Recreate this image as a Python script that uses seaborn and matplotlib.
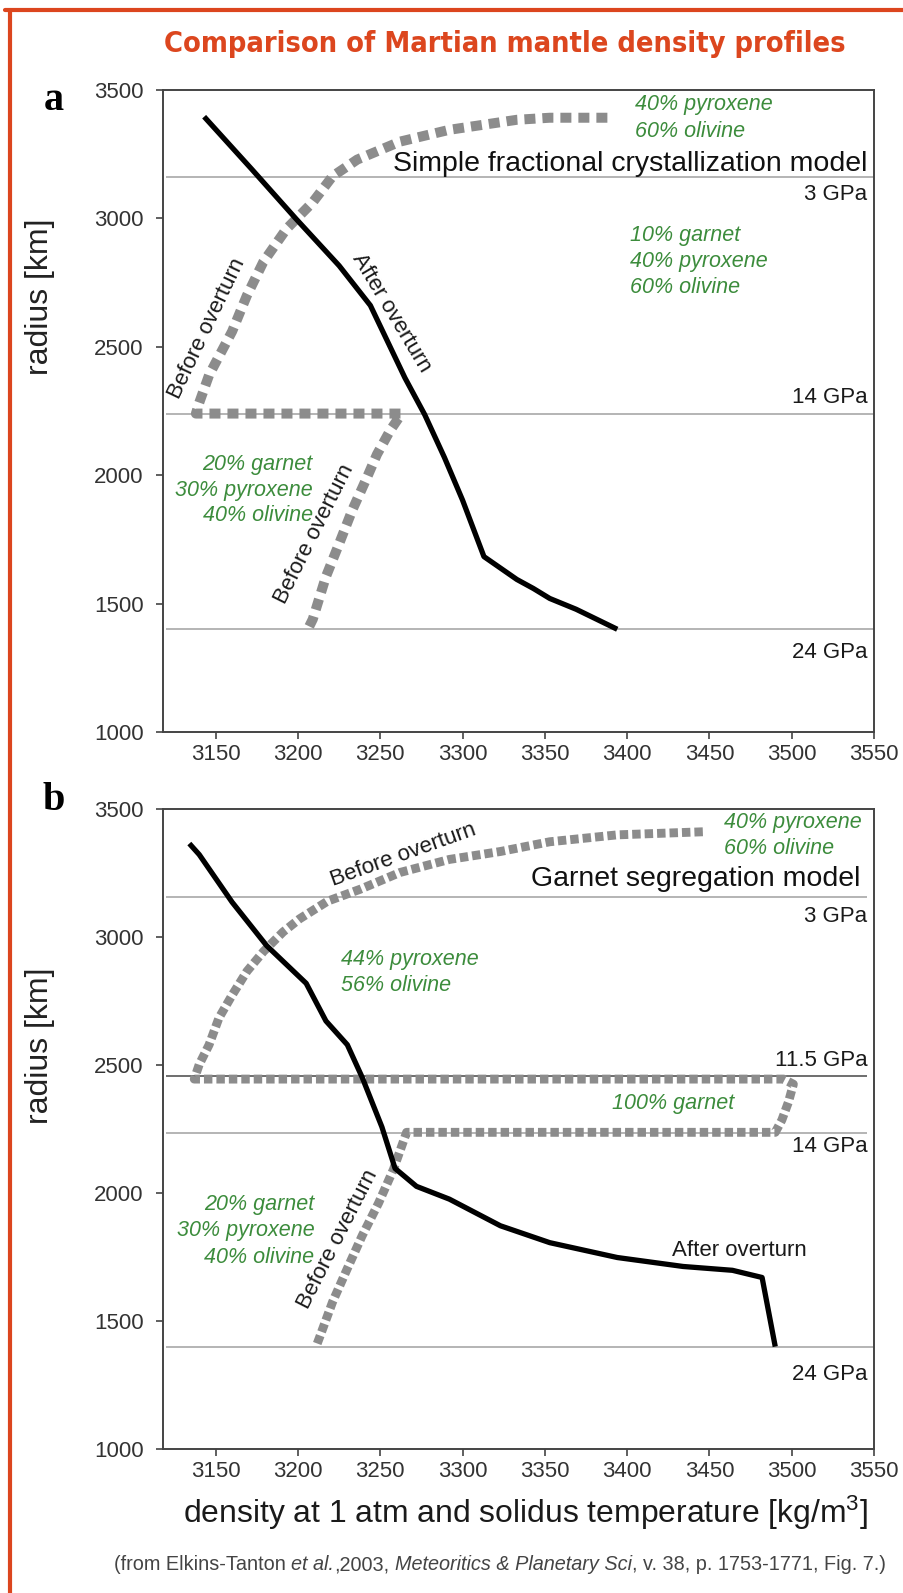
import matplotlib
matplotlib.use("Agg")
import matplotlib.pyplot as plt
import seaborn as sns
import pandas as pd
from matplotlib import font_manager as fm
from matplotlib.lines import Line2D

# ------------------------------------------------------------------ data
X_TICKS = [3150, 3200, 3250, 3300, 3350, 3400, 3450, 3500, 3550]
Y_TICKS = [1000, 1500, 2000, 2500, 3000, 3500]

# panel a : simple fractional crystallization model
A_AFTER_DENSITY = [3143, 3172, 3199, 3225, 3244, 3265, 3277, 3289, 3300, 3313, 3333, 3343, 3353, 3369, 3394]
A_AFTER_RADIUS = [3396, 3191, 2997, 2816, 2661, 2379, 2236, 2069, 1903, 1683, 1594, 1559, 1520, 1478, 1400]
A_BEFORE_DENSITY = [3388, 3353, 3333, 3292, 3262, 3236, 3221, 3209, 3193, 3179, 3169, 3160, 3146, 3140,
                    3138, 3263, 3256, 3248, 3242, 3233, 3225, 3217, 3209, 3206]
A_BEFORE_RADIUS = [3392, 3392, 3384, 3345, 3299, 3229, 3164, 3063, 2959, 2831, 2700, 2560, 2390, 2282,
                   2240, 2240, 2174, 2081, 1992, 1864, 1733, 1605, 1439, 1400]
A_LEVELS = [3160, 2240, 1400]
A_LEVEL_LABELS = ["3 GPa", "14 GPa", "24 GPa"]

# panel b : garnet segregation model
B_AFTER_DENSITY = [3134, 3140, 3160, 3181, 3205, 3217, 3230, 3239, 3251, 3259, 3272, 3292, 3323, 3353,
                   3394, 3434, 3464, 3482, 3490]
B_AFTER_RADIUS = [3365, 3322, 3136, 2966, 2819, 2672, 2579, 2452, 2258, 2096, 2026, 1976, 1872, 1806,
                  1748, 1713, 1698, 1670, 1400]
B_BEFORE_DENSITY = [3446, 3394, 3353, 3323, 3292, 3262, 3238, 3218, 3201, 3191, 3179, 3169, 3160, 3152,
                    3146, 3140, 3137, 3495, 3501, 3498, 3494, 3490, 3266, 3258, 3249, 3239, 3230, 3221,
                    3213, 3211]
B_BEFORE_RADIUS = [3411, 3399, 3372, 3334, 3303, 3252, 3187, 3140, 3071, 3020, 2943, 2866, 2773, 2684,
                   2579, 2502, 2445, 2445, 2425, 2355, 2285, 2237, 2237, 2092, 1961, 1833, 1705, 1574,
                   1434, 1400]
B_LEVELS = [3157, 2457, 2236, 1400]
B_LEVEL_LABELS = ["3 GPa", "11.5 GPa", "14 GPa", "24 GPa"]

TITLE = "Comparison of Martian mantle density profiles"
CITATION = [("(from Elkins-Tanton", "normal"), (" ", "space"), ("et al.", "italic"),
            (",2003,", "normal"), (" ", "space"), ("Meteoritics & Planetary Sci", "italic"),
            (", v. 38, p. 1753-1771, Fig. 7.)", "normal")]

# ------------------------------------------------------------------ style
sns.set_theme(style="white")
plt.rcParams["font.family"] = ["Liberation Sans", "DejaVu Sans"]
plt.rcParams["mathtext.fontset"] = "custom"
plt.rcParams["mathtext.rm"] = "Liberation Sans"

W, H = 904, 1593
fig = plt.figure(figsize=(W / 100, H / 100), dpi=100)
fig.patch.set_facecolor("white")


def fx(px):
    return px / W


def fy(py):
    return 1 - py / H


GREY = "#8c8c8c"
GREEN = "#3c8c3c"
RED = "#dc461e"
TXT = "#1a1a1a"

# red frame (top and left)
fig.add_artist(Line2D([fx(5), fx(904)], [fy(10), fy(10)], color=RED, lw=3, transform=fig.transFigure))
fig.add_artist(Line2D([fx(10), fx(10)], [fy(10), fy(1593)], color=RED, lw=3, transform=fig.transFigure))

ax_a = fig.add_axes([fx(163), fy(732), (874 - 163) / W, (732 - 90) / H])
ax_b = fig.add_axes([fx(163), fy(1449), (874 - 163) / W, (1449 - 809) / H])


def style_axes(ax):
    ax.set_xlim(3118, 3550)
    ax.set_ylim(1000, 3500)
    ax.set_xticks(X_TICKS)
    ax.set_yticks(Y_TICKS)
    ax.set_xlabel("")
    ax.set_ylabel("")
    for s in ax.spines.values():
        s.set_visible(True)
        s.set_color("#444444")
        s.set_linewidth(1.4)
    ax.tick_params(axis="both", which="both", direction="out", length=5, width=1.2,
                   color="#444444", labelcolor="#333333", labelsize=16,
                   bottom=True, left=True, top=False, right=False)
    ax.tick_params(axis="x", pad=3.5)
    ax.tick_params(axis="y", pad=9)
    ax.set_facecolor("white")
    ax.grid(False)


def draw_panel(ax, after_x, after_y, before_x, before_y, levels, xmax_list, lw_dot, dash, dark_idx=None):
    ax.hlines(levels, 3120, xmax_list,
              colors=["#555555" if i == dark_idx else "#a8a8a8" for i in range(len(levels))],
              linewidth=1.2, zorder=1)
    before = pd.DataFrame({"density": before_x, "radius": before_y})
    sns.lineplot(data=before, x="density", y="radius", sort=False, estimator=None,
                 color=GREY, linewidth=lw_dot, ax=ax, zorder=2)
    ln = ax.lines[-1]
    ln.set_linestyle((0, dash))
    ln.set_dash_capstyle("butt")
    after = pd.DataFrame({"density": after_x, "radius": after_y})
    sns.lineplot(data=after, x="density", y="radius", sort=False, estimator=None,
                 color="black", linewidth=3.8, ax=ax, zorder=3)
    ax.lines[-1].set_solid_capstyle("butt")
    style_axes(ax)


draw_panel(ax_a, A_AFTER_DENSITY, A_AFTER_RADIUS, A_BEFORE_DENSITY, A_BEFORE_RADIUS,
           A_LEVELS, [3550, 3550, 3550], 7.2, (1.1, 0.7))
draw_panel(ax_b, B_AFTER_DENSITY, B_AFTER_RADIUS, B_BEFORE_DENSITY, B_BEFORE_RADIUS,
           B_LEVELS, [3546, 3546, 3546, 3550], 6.4, (0.95, 0.45), dark_idx=1)

# ------------------------------------------------------------------ annotations
gk = dict(color=GREEN, fontsize=15.5, style="italic", va="center")
bk = dict(color=TXT, fontsize=16, va="center")
ov = dict(rotation_mode="anchor", ha="center", va="center", fontsize=16, color=TXT)

# panel a
ax_a.text(3546, 3210, "Simple fractional crystallization model", ha="right", va="center",
          fontsize=20.5, color="#111111")
for lab, yv in zip(A_LEVEL_LABELS, [3094, 2301, 1308]):
    ax_a.text(3546, yv, lab, ha="right", **bk)
for lab, yv in zip(["40% pyroxene", "60% olivine"], [3442, 3338]):
    ax_a.text(3405, yv, lab, ha="left", **gk)
for lab, yv in zip(["10% garnet", "40% pyroxene", "60% olivine"], [2932, 2831, 2730]):
    ax_a.text(3402, yv, lab, ha="left", **gk)
for lab, yv in zip(["20% garnet", "30% pyroxene", "40% olivine"], [2042, 1942, 1845]):
    ax_a.text(3209, yv, lab, ha="right", **gk)
ax_a.text(3257, 2630, "After overturn", rotation=-59, **ov)
ax_a.text(3145, 2572, "Before overturn", rotation=64.5, **ov)
ax_a.text(3210, 1771, "Before overturn", rotation=63.4, **ov)

# panel b
ax_b.text(3542, 3225, "Garnet segregation model", ha="right", va="center", fontsize=20.5,
          color="#111111")
for lab, yv in zip(B_LEVEL_LABELS, [3082, 2517, 2181, 1292]):
    ax_b.text(3546, yv, lab, ha="right", **bk)
for lab, yv in zip(["40% pyroxene", "60% olivine"], [3446, 3345]):
    ax_b.text(3459, yv, lab, ha="left", **gk)
for lab, yv in zip(["44% pyroxene", "56% olivine"], [2912, 2811]):
    ax_b.text(3226, yv, lab, ha="left", **gk)
ax_b.text(3428, 2351, "100% garnet", ha="center", **gk)
for lab, yv in zip(["20% garnet", "30% pyroxene", "40% olivine"], [1957, 1852, 1748]):
    ax_b.text(3210, yv, lab, ha="right", **gk)
ax_b.text(3264, 3320, "Before overturn", rotation=19.7, **ov)
ax_b.text(3224, 1821, "Before overturn", rotation=63, **ov)
ax_b.text(3468, 1775, "After overturn", ha="center", va="center", fontsize=16, color=TXT)

# axis labels
for ycen in (297, 1046):
    fig.text(fx(40), fy(ycen), "radius [km]", rotation=90, ha="center", va="center",
             fontsize=23, color="#222222")
for lab, (px, py) in zip(["a", "b"], [(54, 101), (54, 800)]):
    fig.text(fx(px), fy(py), lab, ha="center", va="center", fontsize=29, fontweight="bold",
             family=["Liberation Serif", "DejaVu Serif"], color="black")

renderer = fig.canvas.get_renderer()

# x label, fitted to the reference width
xl = fig.text(fx(525), fy(1513), r"density at 1 atm and solidus temperature [kg/m$\mathregular{^3}$]",
              ha="center", va="center", fontsize=20, color=TXT)
w = xl.get_window_extent(renderer).width
xl.set_fontsize(20 * 685 / w)

# title
names = {f.name for f in fm.fontManager.ttflist}
if "Liberation Sans Narrow" in names:
    tfam, tstretch = ["Liberation Sans Narrow", "DejaVu Sans"], "normal"
else:
    tfam, tstretch = ["DejaVu Sans"], "condensed"
tt = fig.text(fx(505), fy(44), TITLE, ha="center", va="center", fontsize=24, fontweight="heavy",
              family=tfam, fontstretch=tstretch, color=RED)
w = tt.get_window_extent(renderer).width
tt.set_fontsize(24 * 685 / w)

# citation with mixed styles, fitted to the reference width
def build_citation(cfs):
    p1 = fig.text(0, 0, "a a", fontsize=cfs)
    p2 = fig.text(0, 0, "aa", fontsize=cfs)
    sw = p1.get_window_extent(renderer).width - p2.get_window_extent(renderer).width
    p1.remove()
    p2.remove()
    parts, total = [], 0
    for txt, sty in CITATION:
        if sty == "space":
            parts.append((None, sw))
            total += sw
            continue
        t = fig.text(0, fy(1565), txt, ha="left", va="center", fontsize=cfs, color="#444444",
                     style="italic" if sty == "italic" else "normal")
        wpx = t.get_window_extent(renderer).width
        parts.append((t, wpx))
        total += wpx
    return parts, total


parts, total = build_citation(11.5)
scale = 774 / total
for t, _ in parts:
    if t is not None:
        t.remove()
parts, total = build_citation(11.5 * scale)
xcur = 500 - total / 2
for t, wpx in parts:
    if t is not None:
        t.set_x(fx(xcur))
    xcur += wpx

fig.savefig("out.png", dpi=100, facecolor="white")
